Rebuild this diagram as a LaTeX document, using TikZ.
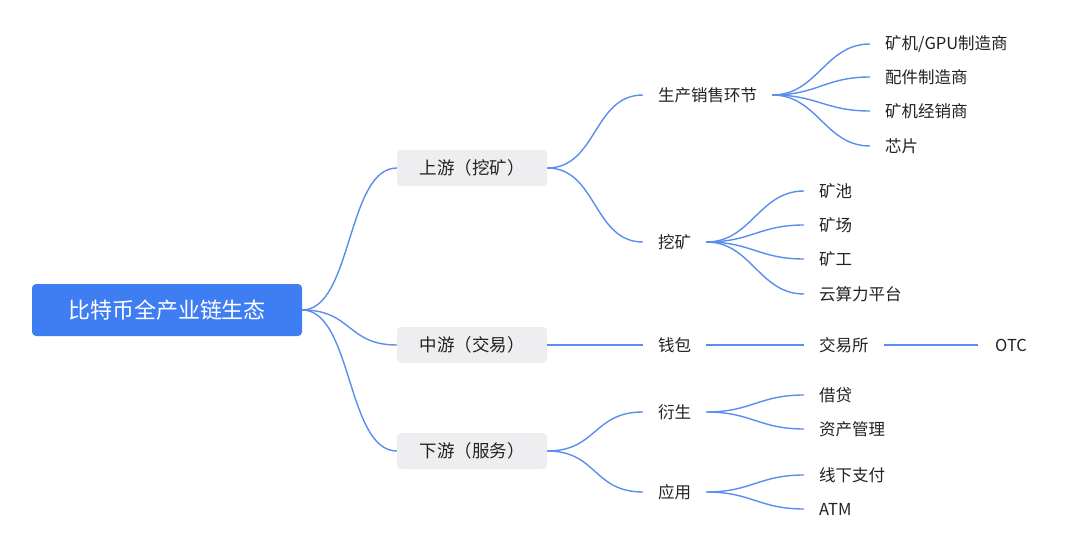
\documentclass[tikz,border=0pt]{standalone}
\usepackage{fontspec}
\setmainfont{Noto Sans CJK SC}
\usetikzlibrary{positioning}
\definecolor{linkblue}{HTML}{5B8DEF}
\definecolor{rootblue}{HTML}{3F7DF3}
\definecolor{boxgray}{HTML}{EEEEF0}
\definecolor{txt}{HTML}{222222}

\begin{document}
\begin{tikzpicture}[x=1pt, y=-1pt, text=txt]
  \tikzstyle{rootnode}=[fill=rootblue, text=white, rounded corners=4pt, minimum width=270pt, minimum height=52pt, font=\fontsize{22}{26}\selectfont]
  \tikzstyle{topicnode}=[fill=boxgray, rounded corners=4pt, minimum width=150pt, minimum height=36pt, font=\fontsize{17.5}{21}\selectfont]
  \tikzstyle{subnode}=[inner xsep=15pt, inner ysep=2pt, font=\fontsize{16.5}{19}\selectfont]
  \tikzstyle{leafnode}=[inner xsep=15pt, inner ysep=2pt, font=\fontsize{16.5}{19}\selectfont]
  \tikzstyle{edge}=[draw=linkblue, line width=1.4pt]
  \useasboundingbox (0,0) rectangle (1080,551);

  % root and topics
  \node[rootnode] (root) at (167,310) {比特币全产业链生态};
  \node[topicnode] (up) at (472,168) {上游（挖矿）};
  \node[topicnode] (mid) at (472,345) {中游（交易）};
  \node[topicnode] (down) at (472,451) {下游（服务）};

  % second level
  \node[subnode, anchor=west] (prod) at (643,95) {生产销售环节};
  \node[subnode, anchor=west] (mine) at (643,242) {挖矿};
  \node[subnode, anchor=west] (wallet) at (643,345) {钱包};
  \node[subnode, anchor=west] (deriv) at (643,412) {衍生};
  \node[subnode, anchor=west] (app) at (643,492) {应用};

  % leaves
  \node[leafnode, anchor=west] (l1) at (870,44) {矿机/GPU制造商};
  \node[leafnode, anchor=west] (l2) at (870,77) {配件制造商};
  \node[leafnode, anchor=west] (l3) at (870,111) {矿机经销商};
  \node[leafnode, anchor=west] (l4) at (870,146) {芯片};
  \node[leafnode, anchor=west] (m1) at (804,191) {矿池};
  \node[leafnode, anchor=west] (m2) at (804,225) {矿场};
  \node[leafnode, anchor=west] (m3) at (804,259) {矿工};
  \node[leafnode, anchor=west] (m4) at (804,294) {云算力平台};
  \node[leafnode, anchor=west] (ex) at (804,345) {交易所};
  \node[leafnode, anchor=west, inner xsep=17pt] (otc) at (978,345) {OTC};
  \node[leafnode, anchor=west] (d1) at (804,395) {借贷};
  \node[leafnode, anchor=west] (d2) at (804,429) {资产管理};
  \node[leafnode, anchor=west] (a1) at (804,475) {线下支付};
  \node[leafnode, anchor=west] (a2) at (804,509) {ATM};

  % connectors
  \foreach \t in {up, mid, down}
    \draw[edge] (root.east) .. controls +(50,0) and +(-50,0) .. (\t.west);
  \foreach \a/\b in {up/prod, up/mine, mid/wallet, down/deriv, down/app}
    \draw[edge] (\a.east) .. controls +(50,0) and +(-50,0) .. (\b.west);
  \foreach \b in {l1, l2, l3, l4}
    \draw[edge] (prod.east) .. controls +(45,0) and +(-45,0) .. (\b.west);
  \foreach \b in {m1, m2, m3, m4}
    \draw[edge] (mine.east) .. controls +(45,0) and +(-45,0) .. (\b.west);
  \foreach \b in {d1, d2}
    \draw[edge] (deriv.east) .. controls +(45,0) and +(-45,0) .. (\b.west);
  \foreach \b in {a1, a2}
    \draw[edge] (app.east) .. controls +(45,0) and +(-45,0) .. (\b.west);
  \draw[edge] (wallet.east) -- (ex.west);
  \draw[edge] (ex.east) -- (otc.west);
\end{tikzpicture}
\end{document}
